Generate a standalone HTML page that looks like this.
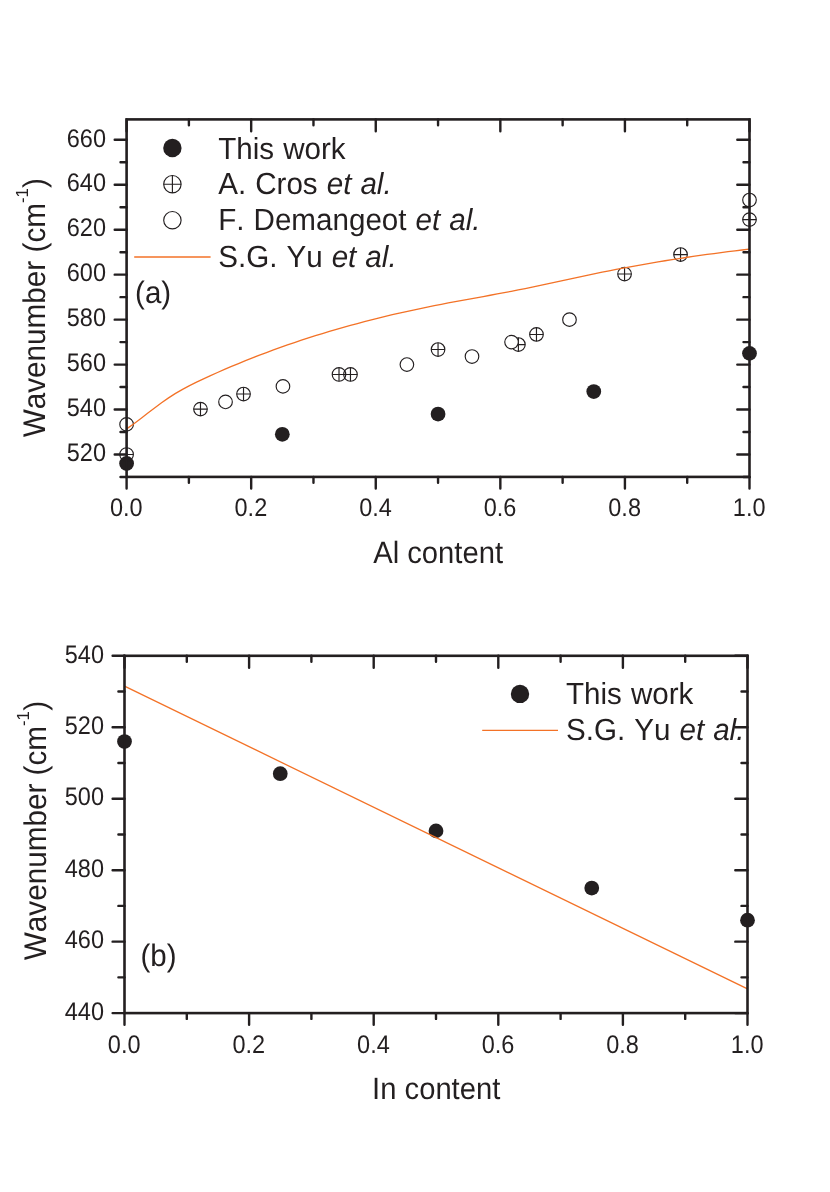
<!DOCTYPE html>
<html><head><meta charset="utf-8"><title>Wavenumber vs content</title>
<style>html,body{margin:0;padding:0;background:#fff;}body{width:830px;height:1192px;overflow:hidden;font-family:"Liberation Sans",sans-serif;}svg{display:block;will-change:transform;font-kerning:none;text-rendering:geometricPrecision;}</style>
</head><body>
<svg width="830" height="1192" viewBox="0 0 830 1192" font-family="'Liberation Sans', sans-serif" fill="#231F20">
<rect width="830" height="1192" fill="#fff"/>
<g font-size="23.5" text-anchor="end">
<text transform="translate(106 461.21) scale(1 1.08)">520</text>
<text transform="translate(106 416.25) scale(1 1.08)">540</text>
<text transform="translate(106 371.29) scale(1 1.08)">560</text>
<text transform="translate(106 326.33) scale(1 1.08)">580</text>
<text transform="translate(106 281.37) scale(1 1.08)">600</text>
<text transform="translate(106 236.42) scale(1 1.08)">620</text>
<text transform="translate(106 191.46) scale(1 1.08)">640</text>
<text transform="translate(106 146.5) scale(1 1.08)">660</text>
</g>
<g font-size="23.5" text-anchor="middle">
<text transform="translate(126.3 516.1) scale(1 1.08)">0.0</text>
<text transform="translate(250.88 516.1) scale(1 1.08)">0.2</text>
<text transform="translate(375.46 516.1) scale(1 1.08)">0.4</text>
<text transform="translate(500.04 516.1) scale(1 1.08)">0.6</text>
<text transform="translate(624.62 516.1) scale(1 1.08)">0.8</text>
<text transform="translate(749.2 516.1) scale(1 1.08)">1.0</text>
</g>
<text transform="translate(438.1 562.6) scale(1 1.055)" font-size="29.2" text-anchor="middle">Al content</text>
<g transform="translate(44.8 437.3) rotate(-90) scale(1 1.055)" font-size="29.7">
<text x="0" y="0">Wavenumber (cm<tspan font-size="16.6" dy="-16.4">-1</tspan><tspan dy="16.4" dx="0.4">)</tspan></text>
</g>
<circle cx="126.6" cy="463.5" r="7.38" fill="#231F20"/>
<circle cx="282.32" cy="434.27" r="7.38" fill="#231F20"/>
<circle cx="438.05" cy="414.04" r="7.38" fill="#231F20"/>
<circle cx="593.77" cy="391.56" r="7.38" fill="#231F20"/>
<circle cx="749.5" cy="353.35" r="7.38" fill="#231F20"/>
<circle cx="126.6" cy="454.51" r="6.8" fill="none" stroke="#231F20" stroke-width="1.15"/>
<path d="M119.8 454.51H133.4M126.6 447.71V461.31" stroke="#231F20" stroke-width="1.15" fill="none"/>
<circle cx="200.48" cy="409.1" r="6.8" fill="none" stroke="#231F20" stroke-width="1.15"/>
<path d="M193.68 409.1H207.28M200.48 402.3V415.9" stroke="#231F20" stroke-width="1.15" fill="none"/>
<circle cx="243.52" cy="394.04" r="6.8" fill="none" stroke="#231F20" stroke-width="1.15"/>
<path d="M236.72 394.04H250.32M243.52 387.24V400.84" stroke="#231F20" stroke-width="1.15" fill="none"/>
<circle cx="339.01" cy="374.48" r="6.8" fill="none" stroke="#231F20" stroke-width="1.15"/>
<path d="M332.21 374.48H345.81M339.01 367.68V381.28" stroke="#231F20" stroke-width="1.15" fill="none"/>
<circle cx="350.47" cy="374.48" r="6.8" fill="none" stroke="#231F20" stroke-width="1.15"/>
<path d="M343.67 374.48H357.27M350.47 367.68V381.28" stroke="#231F20" stroke-width="1.15" fill="none"/>
<circle cx="438.05" cy="349.53" r="6.8" fill="none" stroke="#231F20" stroke-width="1.15"/>
<path d="M431.25 349.53H444.85M438.05 342.73V356.33" stroke="#231F20" stroke-width="1.15" fill="none"/>
<circle cx="518.4" cy="344.58" r="6.8" fill="none" stroke="#231F20" stroke-width="1.15"/>
<path d="M511.6 344.58H525.2M518.4 337.78V351.38" stroke="#231F20" stroke-width="1.15" fill="none"/>
<circle cx="536.47" cy="334.47" r="6.8" fill="none" stroke="#231F20" stroke-width="1.15"/>
<path d="M529.67 334.47H543.27M536.47 327.67V341.27" stroke="#231F20" stroke-width="1.15" fill="none"/>
<circle cx="624.55" cy="274" r="6.8" fill="none" stroke="#231F20" stroke-width="1.15"/>
<path d="M617.75 274H631.35M624.55 267.2V280.8" stroke="#231F20" stroke-width="1.15" fill="none"/>
<circle cx="680.54" cy="254.56" r="6.8" fill="none" stroke="#231F20" stroke-width="1.15"/>
<path d="M673.74 254.56H687.34M680.54 247.76V261.36" stroke="#231F20" stroke-width="1.15" fill="none"/>
<circle cx="749.5" cy="219.6" r="6.8" fill="none" stroke="#231F20" stroke-width="1.15"/>
<path d="M742.7 219.6H756.3M749.5 212.8V226.4" stroke="#231F20" stroke-width="1.15" fill="none"/>
<circle cx="126.6" cy="424.38" r="6.8" fill="#fff" stroke="#231F20" stroke-width="1.15"/>
<circle cx="225.52" cy="401.91" r="6.8" fill="#fff" stroke="#231F20" stroke-width="1.15"/>
<circle cx="282.95" cy="386.39" r="6.8" fill="#fff" stroke="#231F20" stroke-width="1.15"/>
<circle cx="406.9" cy="364.59" r="6.8" fill="#fff" stroke="#231F20" stroke-width="1.15"/>
<circle cx="472" cy="356.5" r="6.8" fill="#fff" stroke="#231F20" stroke-width="1.15"/>
<circle cx="511.55" cy="342.11" r="6.8" fill="#fff" stroke="#231F20" stroke-width="1.15"/>
<circle cx="569.48" cy="319.63" r="6.8" fill="#fff" stroke="#231F20" stroke-width="1.15"/>
<circle cx="749.5" cy="200.04" r="6.8" fill="#fff" stroke="#231F20" stroke-width="1.15"/>
<polyline fill="none" stroke="#F37227" stroke-width="1.3" stroke-linejoin="round" points="126.6,428.88 133.59,423.91 140.59,418.66 147.58,413.28 154.57,407.92 161.57,402.73 168.56,397.86 175.55,393.42 182.55,389.37 189.54,385.64 196.53,382.15 203.53,378.84 210.52,375.64 217.51,372.51 224.51,369.45 231.5,366.46 238.49,363.54 245.49,360.69 252.48,357.91 259.47,355.2 266.47,352.54 273.46,349.96 280.45,347.43 287.44,344.97 294.44,342.57 301.43,340.23 308.42,337.95 315.42,335.72 322.41,333.56 329.4,331.44 336.4,329.38 343.39,327.38 350.38,325.43 357.38,323.52 364.37,321.67 371.36,319.87 378.36,318.11 385.35,316.4 392.34,314.74 399.34,313.12 406.33,311.55 413.32,310.01 420.32,308.52 427.31,307.07 434.3,305.65 441.3,304.28 448.29,302.94 455.28,301.62 462.28,300.33 469.27,299.06 476.26,297.79 483.26,296.52 490.25,295.24 497.24,293.96 504.24,292.65 511.23,291.31 518.22,289.94 525.22,288.53 532.21,287.09 539.2,285.62 546.2,284.12 553.19,282.62 560.18,281.1 567.18,279.59 574.17,278.08 581.16,276.58 588.16,275.09 595.15,273.63 602.14,272.2 609.13,270.8 616.13,269.43 623.12,268.1 630.11,266.8 637.11,265.53 644.1,264.29 651.09,263.08 658.09,261.9 665.08,260.75 672.07,259.64 679.07,258.55 686.06,257.49 693.05,256.46 700.05,255.45 707.04,254.48 714.03,253.53 721.03,252.61 728.02,251.71 735.01,250.84 742.01,250 749,249.18"/>
<g stroke="#231F20" stroke-width="2.6" stroke-linecap="butt" fill="none">
<rect x="126.6" y="119.4" width="622.9" height="357.5" stroke-linejoin="miter"/>
</g>
<g stroke="#231F20" stroke-width="2.4" stroke-linecap="round" fill="none">
<path d="M126.6 476.9V488.5M126.6 119.4V131.3"/>
<path d="M188.89 476.9V482.7M188.89 119.4V125.3"/>
<path d="M251.18 476.9V488.5M251.18 119.4V131.3"/>
<path d="M313.47 476.9V482.7M313.47 119.4V125.3"/>
<path d="M375.76 476.9V488.5M375.76 119.4V131.3"/>
<path d="M438.05 476.9V482.7M438.05 119.4V125.3"/>
<path d="M500.34 476.9V488.5M500.34 119.4V131.3"/>
<path d="M562.63 476.9V482.7M562.63 119.4V125.3"/>
<path d="M624.92 476.9V488.5M624.92 119.4V131.3"/>
<path d="M687.21 476.9V482.7M687.21 119.4V125.3"/>
<path d="M749.5 476.9V488.5M749.5 119.4V131.3"/>
<path d="M126.6 454.51H114.7M749.5 454.51H737.3"/>
<path d="M126.6 409.55H114.7M749.5 409.55H737.3"/>
<path d="M126.6 364.59H114.7M749.5 364.59H737.3"/>
<path d="M126.6 319.63H114.7M749.5 319.63H737.3"/>
<path d="M126.6 274.67H114.7M749.5 274.67H737.3"/>
<path d="M126.6 229.72H114.7M749.5 229.72H737.3"/>
<path d="M126.6 184.76H114.7M749.5 184.76H737.3"/>
<path d="M126.6 139.8H114.7M749.5 139.8H737.3"/>
<path d="M126.6 476.99H120.5M749.5 476.99H743.5"/>
<path d="M126.6 432.03H120.5M749.5 432.03H743.5"/>
<path d="M126.6 387.07H120.5M749.5 387.07H743.5"/>
<path d="M126.6 342.11H120.5M749.5 342.11H743.5"/>
<path d="M126.6 297.15H120.5M749.5 297.15H743.5"/>
<path d="M126.6 252.19H120.5M749.5 252.19H743.5"/>
<path d="M126.6 207.24H120.5M749.5 207.24H743.5"/>
<path d="M126.6 162.28H120.5M749.5 162.28H743.5"/>
</g>
<circle cx="172.4" cy="148" r="9.2" fill="#231F20"/>
<circle cx="172.4" cy="184.2" r="8.7" fill="none" stroke="#231F20" stroke-width="1.15"/>
<path d="M163.7 184.2H181.1M172.4 175.5V192.9" stroke="#231F20" stroke-width="1.15" fill="none"/>
<circle cx="172.4" cy="220.2" r="8.7" fill="none" stroke="#231F20" stroke-width="1.15"/>
<path d="M134.2 257.0H210.6" stroke="#F37227" stroke-width="1.3" fill="none"/>
<g font-size="29.6" word-spacing="0.8">
<text transform="translate(218.2 158.6) scale(1 1.03)">This work</text>
<text transform="translate(218.2 194.4) scale(1 1.03)">A. Cros <tspan font-style="italic">et al.</tspan></text>
<text transform="translate(218.2 230.4) scale(1 1.03)">F. Demangeot <tspan font-style="italic">et al.</tspan></text>
<text transform="translate(218.2 266.5) scale(1 1.03)">S.G. Yu <tspan font-style="italic">et al.</tspan></text>
</g>
<text transform="translate(135.1 303.3) scale(1 1.055)" font-size="29.5">(a)</text>
<g font-size="23.5" text-anchor="end">
<text transform="translate(104.0 1019.8) scale(1 1.08)">440</text>
<text transform="translate(104.0 948.34) scale(1 1.08)">460</text>
<text transform="translate(104.0 876.88) scale(1 1.08)">480</text>
<text transform="translate(104.0 805.42) scale(1 1.08)">500</text>
<text transform="translate(104.0 733.96) scale(1 1.08)">520</text>
<text transform="translate(104.0 662.5) scale(1 1.08)">540</text>
</g>
<g font-size="23.5" text-anchor="middle">
<text transform="translate(124.2 1052.7) scale(1 1.08)">0.0</text>
<text transform="translate(248.8 1052.7) scale(1 1.08)">0.2</text>
<text transform="translate(373.4 1052.7) scale(1 1.08)">0.4</text>
<text transform="translate(498 1052.7) scale(1 1.08)">0.6</text>
<text transform="translate(622.6 1052.7) scale(1 1.08)">0.8</text>
<text transform="translate(747.2 1052.7) scale(1 1.08)">1.0</text>
</g>
<text transform="translate(436.2 1098.7) scale(1 1.055)" font-size="29.2" text-anchor="middle">In content</text>
<g transform="translate(46.1 960.2) rotate(-90) scale(1 1.055)" font-size="29.7">
<text x="0" y="0">Wavenumber (cm<tspan font-size="16.6" dy="-16.4">-1</tspan><tspan dy="16.4" dx="0.4">)</tspan></text>
</g>
<circle cx="124.5" cy="741.55" r="7.38" fill="#231F20"/>
<circle cx="280.25" cy="773.71" r="7.38" fill="#231F20"/>
<circle cx="436" cy="830.88" r="7.38" fill="#231F20"/>
<circle cx="591.75" cy="888.04" r="7.38" fill="#231F20"/>
<circle cx="747.5" cy="920.2" r="7.38" fill="#231F20"/>
<path d="M124.5 686.17L747.5 988.8" stroke="#F37227" stroke-width="1.3" fill="none"/>
<g stroke="#231F20" stroke-width="2.6" stroke-linecap="butt" fill="none">
<rect x="124.5" y="655.8" width="623" height="357.3" stroke-linejoin="miter"/>
</g>
<g stroke="#231F20" stroke-width="2.4" stroke-linecap="round" fill="none">
<path d="M124.5 1013.1V1024.7M124.5 655.8V667.7"/>
<path d="M186.8 1013.1V1018.9M186.8 655.8V661.7"/>
<path d="M249.1 1013.1V1024.7M249.1 655.8V667.7"/>
<path d="M311.4 1013.1V1018.9M311.4 655.8V661.7"/>
<path d="M373.7 1013.1V1024.7M373.7 655.8V667.7"/>
<path d="M436 1013.1V1018.9M436 655.8V661.7"/>
<path d="M498.3 1013.1V1024.7M498.3 655.8V667.7"/>
<path d="M560.6 1013.1V1018.9M560.6 655.8V661.7"/>
<path d="M622.9 1013.1V1024.7M622.9 655.8V667.7"/>
<path d="M685.2 1013.1V1018.9M685.2 655.8V661.7"/>
<path d="M747.5 1013.1V1024.7M747.5 655.8V667.7"/>
<path d="M124.5 1013.1H112.6M747.5 1013.1H735.3"/>
<path d="M124.5 941.64H112.6M747.5 941.64H735.3"/>
<path d="M124.5 870.18H112.6M747.5 870.18H735.3"/>
<path d="M124.5 798.72H112.6M747.5 798.72H735.3"/>
<path d="M124.5 727.26H112.6M747.5 727.26H735.3"/>
<path d="M124.5 655.8H112.6M747.5 655.8H735.3"/>
<path d="M124.5 977.37H118.4M747.5 977.37H741.5"/>
<path d="M124.5 905.91H118.4M747.5 905.91H741.5"/>
<path d="M124.5 834.45H118.4M747.5 834.45H741.5"/>
<path d="M124.5 762.99H118.4M747.5 762.99H741.5"/>
<path d="M124.5 691.53H118.4M747.5 691.53H741.5"/>
</g>
<circle cx="520" cy="693.9" r="9.2" fill="#231F20"/>
<path d="M482.2 730.35H558" stroke="#F37227" stroke-width="1.3" fill="none"/>
<g font-size="29.6" word-spacing="0.8">
<text transform="translate(566 703.7) scale(1 1.03)">This work</text>
<text transform="translate(566 739.7) scale(1 1.03)">S.G. Yu <tspan font-style="italic">et al.</tspan></text>
</g>
<text transform="translate(140.5 966.2) scale(1 1.055)" font-size="29.5">(b)</text>
</svg>
</body></html>
